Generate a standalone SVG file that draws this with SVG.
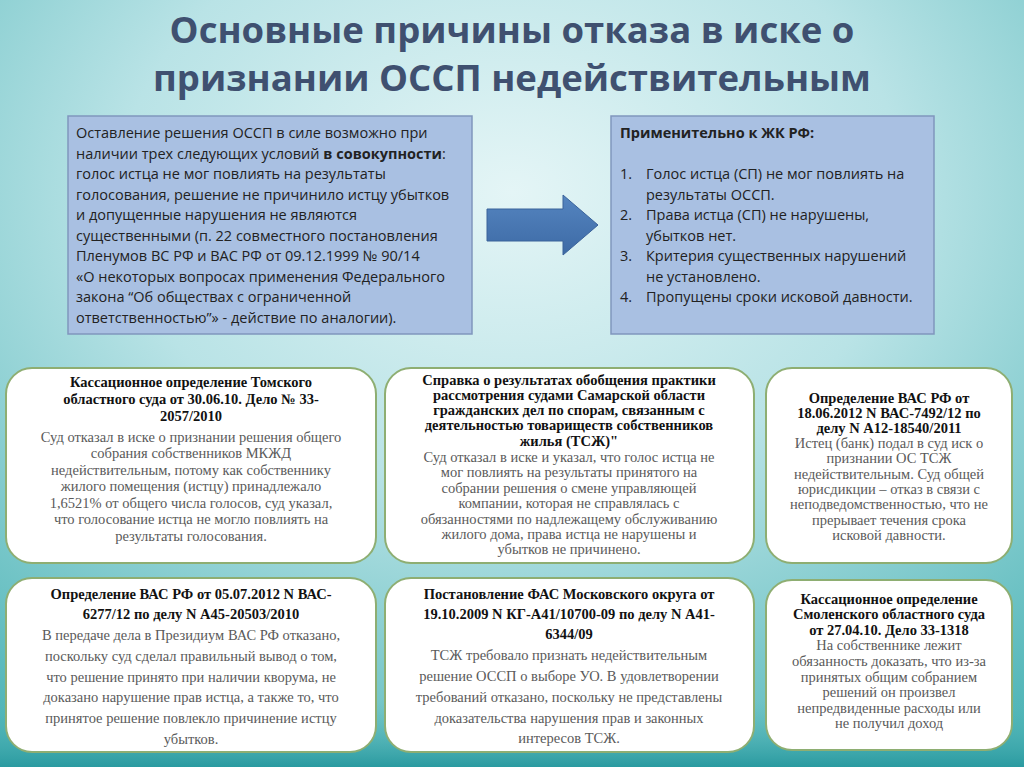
<svg xmlns="http://www.w3.org/2000/svg" width="1024" height="767" viewBox="0 0 1024 767">
<defs>
<radialGradient id="bg" cx="0.5" cy="0.25" r="0.85">
<stop offset="0" stop-color="#e4f5f6"/>
<stop offset="0.45" stop-color="#b9e3e6"/>
<stop offset="1" stop-color="#4fb5b7"/>
</radialGradient>
<linearGradient id="bot" x1="0" y1="0" x2="0" y2="1">
<stop offset="0" stop-color="#5cbcbd" stop-opacity="0"/>
<stop offset="1" stop-color="#2a9aa0"/>
</linearGradient>
<linearGradient id="arr" x1="0" y1="0" x2="0" y2="1">
<stop offset="0" stop-color="#5585c0"/>
<stop offset="1" stop-color="#3d6aa5"/>
</linearGradient>
<style>
.t{font-family:"Open Sans","Noto Sans",sans-serif;font-size:14.5px;fill:#222}
.h{font-family:"Liberation Serif",serif;font-weight:bold;font-size:14.5px;fill:#111;text-anchor:middle}
.b{font-family:"Liberation Serif",serif;font-size:14.5px;fill:#5a5a5a;text-anchor:middle}
.card{fill:#fff;stroke:#8eae72;stroke-width:2}
.blue{fill:#a9c0e2;stroke:#8096bd;stroke-width:1.5}
</style>
</defs>
<rect width="1024" height="767" fill="url(#bg)"/>
<rect y="700" width="1024" height="67" fill="url(#bot)"/>
<g id="title" font-family="'Open Sans','Noto Sans',sans-serif" font-weight="bold" font-size="36.5" fill="#3f5070" text-anchor="middle">
<text x="512" y="43">Основные причины отказа в иске о</text>
<text x="512" y="91">признании ОССП недействительным</text>
</g>
<g id="left-box">
<rect class="blue" x="68" y="116" width="404" height="218"/>
<text class="t" x="76" y="138">Оставление решения ОССП в силе возможно при</text>
<text class="t" x="76" y="159">наличии трех следующих условий <tspan font-weight="bold">в совокупности</tspan>:</text>
<text class="t" x="76" y="179">голос истца не мог повлиять на результаты</text>
<text class="t" x="76" y="200">голосования, решение не причинило истцу убытков</text>
<text class="t" x="76" y="220">и допущенные нарушения не являются</text>
<text class="t" x="76" y="241">существенными (п. 22 совместного постановления</text>
<text class="t" x="76" y="261">Пленумов ВС РФ и ВАС РФ от 09.12.1999 № 90/14</text>
<text class="t" x="76" y="282">«О некоторых вопросах применения Федерального</text>
<text class="t" x="76" y="302">закона “Об обществах с ограниченной</text>
<text class="t" x="76" y="323">ответственностью”» - действие по аналогии).</text>
</g>
<g id="connectors">
<polygon points="487,209 563,209 563,195 598,225 563,255 563,241 487,241" fill="url(#arr)" stroke="#3a629a" stroke-width="1"/>
</g>
<g id="right-box">
<rect class="blue" x="611" y="116" width="323" height="218"/>
<text class="t" x="620" y="138" font-weight="bold">Применительно к ЖК РФ:</text>
<text class="t" x="620" y="179">1.</text><text class="t" x="646" y="179">Голос истца (СП) не мог повлиять на</text>
<text class="t" x="646" y="200">результаты ОССП.</text>
<text class="t" x="620" y="220">2.</text><text class="t" x="646" y="220">Права истца (СП) не нарушены,</text>
<text class="t" x="646" y="241">убытков нет.</text>
<text class="t" x="620" y="261">3.</text><text class="t" x="646" y="261">Критерия существенных нарушений</text>
<text class="t" x="646" y="282">не установлено.</text>
<text class="t" x="620" y="302">4.</text><text class="t" x="646" y="302">Пропущены сроки исковой давности.</text>
</g>
<g id="card-tomsk">
<rect class="card" x="6" y="368" width="370" height="195" rx="26"/>
<text class="h" x="191" y="387">Кассационное определение Томского</text>
<text class="h" x="191" y="404">областного суда от 30.06.10. Дело № 33-</text>
<text class="h" x="191" y="421">2057/2010</text>
<text class="b" x="191" y="442">Суд отказал в иске о признании решения общего</text>
<text class="b" x="191" y="458">собрания собственников МКЖД</text>
<text class="b" x="191" y="475">недействительным, потому как собственнику</text>
<text class="b" x="191" y="491">жилого помещения (истцу) принадлежало</text>
<text class="b" x="191" y="508">1,6521% от общего числа голосов, суд указал,</text>
<text class="b" x="191" y="524">что голосование истца не могло повлиять на</text>
<text class="b" x="191" y="541">результаты голосования.</text>
</g>
<g id="card-samara">
<rect class="card" x="385" y="368" width="369" height="195" rx="26"/>
<text class="h" x="569" y="385" font-size="13.5">Справка о результатах обобщения практики</text>
<text class="h" x="569" y="400" font-size="13.5">рассмотрения судами Самарской области</text>
<text class="h" x="569" y="415" font-size="13.5">гражданских дел по спорам, связанным с</text>
<text class="h" x="569" y="430" font-size="13.5">деятельностью товариществ собственников</text>
<text class="h" x="569" y="446" font-size="13.5">жилья (ТСЖ)"</text>
<text class="b" x="569" y="462" font-size="13.5">Суд отказал в иске и указал, что голос истца не</text>
<text class="b" x="569" y="477" font-size="13.5">мог повлиять на результаты принятого на</text>
<text class="b" x="569" y="493" font-size="13.5">собрании решения о смене управляющей</text>
<text class="b" x="569" y="508" font-size="13.5">компании, которая не справлялась с</text>
<text class="b" x="569" y="524" font-size="13.5">обязанностями по надлежащему обслуживанию</text>
<text class="b" x="569" y="539" font-size="13.5">жилого дома, права истца не нарушены и</text>
<text class="b" x="569" y="554" font-size="13.5">убытков не причинено.</text>
</g>
<g id="card-vas-2012-06">
<rect class="card" x="766" y="368" width="246" height="195" rx="26"/>
<text class="h" x="889" y="403">Определение ВАС РФ от</text>
<text class="h" x="889" y="418">18.06.2012 N ВАС-7492/12 по</text>
<text class="h" x="889" y="433">делу N А12-18540/2011</text>
<text class="b" x="889" y="448">Истец (банк) подал в суд иск о</text>
<text class="b" x="889" y="463">признании ОС ТСЖ</text>
<text class="b" x="889" y="479">недействительным. Суд общей</text>
<text class="b" x="889" y="494">юрисдикции – отказ в связи с</text>
<text class="b" x="889" y="509">неподведомственностью, что не</text>
<text class="b" x="889" y="525">прерывает течения срока</text>
<text class="b" x="889" y="540">исковой давности.</text>
</g>
<g id="card-vas-2012-07">
<rect class="card" x="6" y="578" width="370" height="174" rx="26"/>
<text class="h" x="191" y="599" font-size="15">Определение ВАС РФ от 05.07.2012 N ВАС-</text>
<text class="h" x="191" y="619" font-size="15">6277/12 по делу N А45-20503/2010</text>
<text class="b" x="191" y="640" font-size="15">В передаче дела в Президиум ВАС РФ отказано,</text>
<text class="b" x="191" y="661" font-size="15">поскольку суд сделал правильный вывод о том,</text>
<text class="b" x="191" y="682" font-size="15">что решение принято при наличии кворума, не</text>
<text class="b" x="191" y="702" font-size="15">доказано нарушение прав истца, а также то, что</text>
<text class="b" x="191" y="723" font-size="15">принятое решение повлекло причинение истцу</text>
<text class="b" x="191" y="744" font-size="15">убытков.</text>
</g>
<g id="card-fas">
<rect class="card" x="385" y="578" width="369" height="174" rx="26"/>
<text class="h" x="569" y="599" font-size="15">Постановление ФАС Московского округа от</text>
<text class="h" x="569" y="619" font-size="15">19.10.2009 N КГ-А41/10700-09 по делу N А41-</text>
<text class="h" x="569" y="639" font-size="15">6344/09</text>
<text class="b" x="569" y="660" font-size="15">ТСЖ требовало признать недействительным</text>
<text class="b" x="569" y="681" font-size="15">решение ОССП о выборе УО.  В удовлетворении</text>
<text class="b" x="569" y="702" font-size="15">требований отказано, поскольку не представлены</text>
<text class="b" x="569" y="723" font-size="15">доказательства нарушения прав и законных</text>
<text class="b" x="569" y="743" font-size="15">интересов ТСЖ.</text>
</g>
<g id="card-smolensk">
<rect class="card" x="766" y="580" width="246" height="170" rx="26"/>
<text class="h" x="889" y="604">Кассационное определение</text>
<text class="h" x="889" y="619">Смоленского областного суда</text>
<text class="h" x="889" y="635">от 27.04.10. Дело 33-1318</text>
<text class="b" x="889" y="650">На собственнике лежит</text>
<text class="b" x="889" y="666">обязанность доказать, что из-за</text>
<text class="b" x="889" y="682">принятых общим собранием</text>
<text class="b" x="889" y="697">решений он произвел</text>
<text class="b" x="889" y="713">непредвиденные расходы или</text>
<text class="b" x="889" y="728">не получил доход</text>
</g>
</svg>
